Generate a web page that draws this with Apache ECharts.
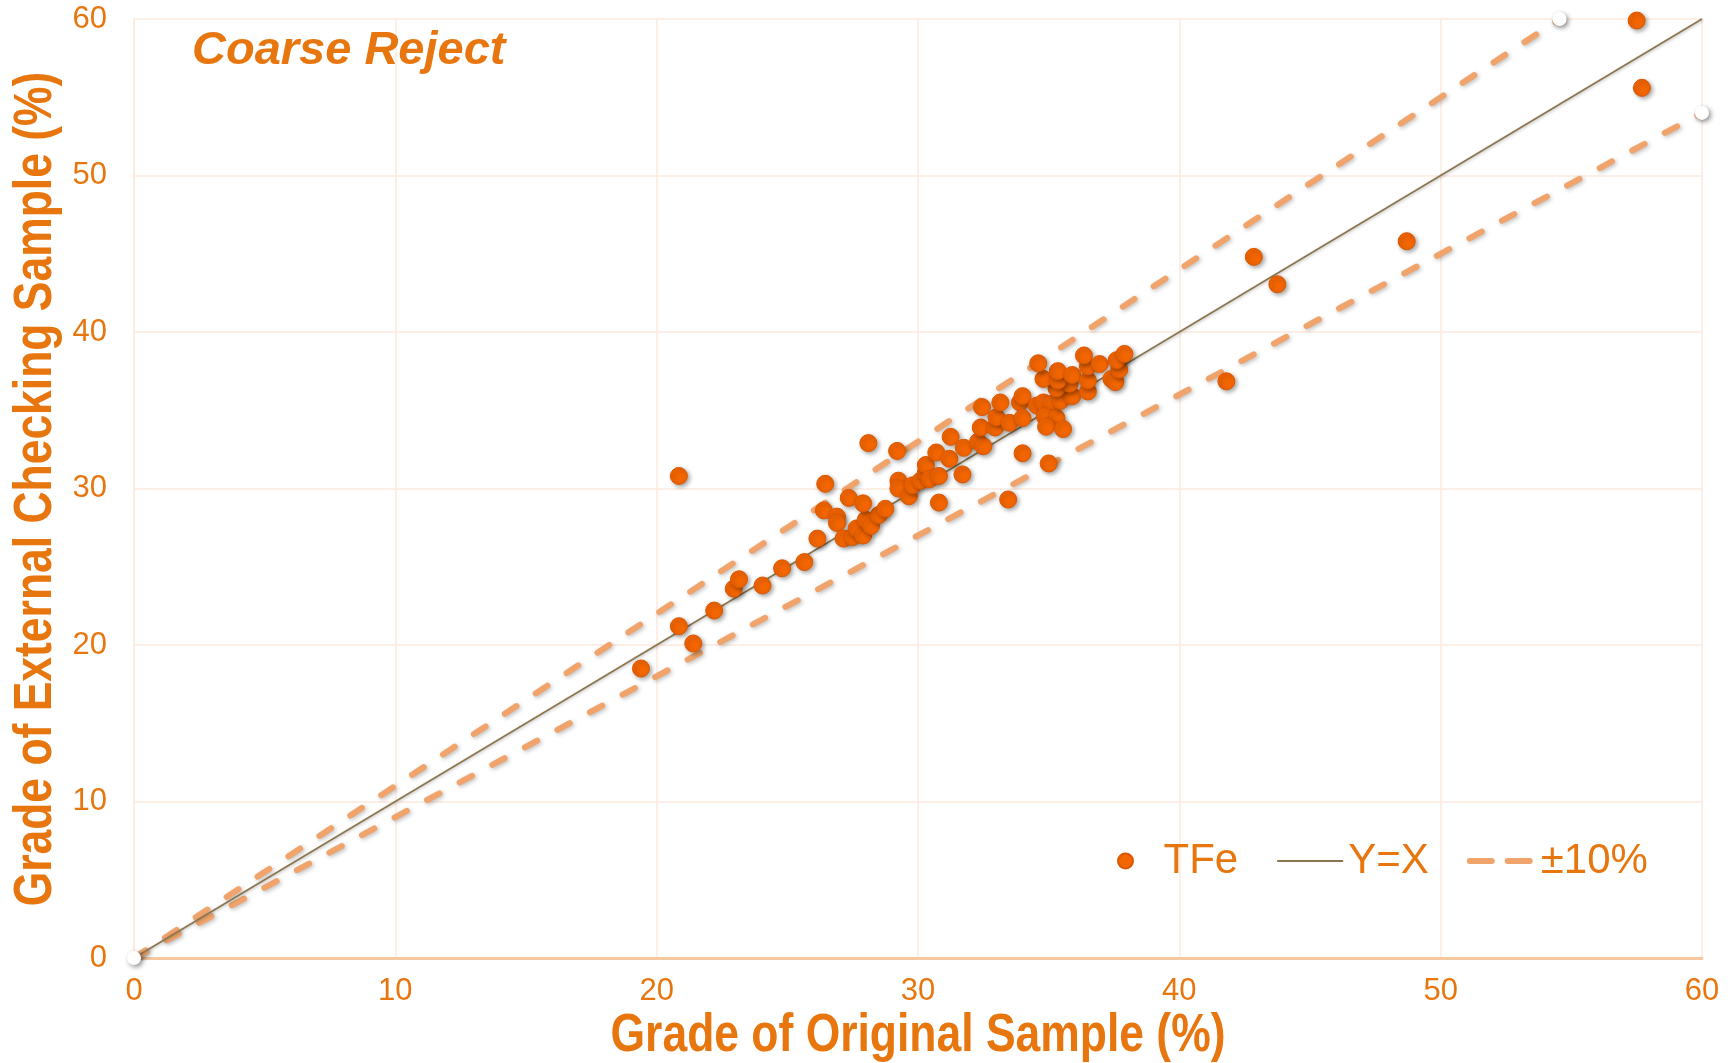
<!DOCTYPE html>
<html>
<head>
<meta charset="utf-8">
<script src="https://cdn.jsdelivr.net/npm/echarts@6/dist/echarts.min.js"></script>
<style>
html,body{margin:0;padding:0;background:#fff;}
#chart{width:1732px;height:1063px;}
</style>
</head>
<body>
<div id="chart"></div>
<script>
// ---- data ----
const axisTicks = [0, 10, 20, 30, 40, 50, 60];
const tfePoints = [
  [19.4,18.5],[20.85,21.2],[21.4,20.1],[22.2,22.2],[22.95,23.6],[23.15,24.2],[24.05,23.8],
  [24.8,24.9],[25.65,25.3],[26.15,26.8],[26.4,28.6],[26.45,30.3],[26.9,28.2],[26.9,27.8],
  [27.15,26.8],[27.5,26.9],[27.65,27.45],[27.9,27.0],[28.0,28.0],[28.2,27.6],[28.5,28.3],
  [28.75,28.7],[27.35,29.4],[27.9,29.05],[28.1,32.9],[29.2,32.4],[29.25,30.5],[29.25,30.0],
  [29.65,29.5],[29.8,30.2],[30.1,30.5],[30.3,31.0],[30.3,31.5],[30.45,30.6],[30.8,30.8],
  [30.8,29.1],[30.7,32.3],[31.25,33.3],[31.2,31.9],[31.75,32.6],[31.7,30.9],[32.3,33.0],
  [32.5,32.7],[32.4,33.9],[32.95,33.9],[32.45,35.2],[33.0,34.55],[33.5,34.2],[33.15,35.5],
  [33.9,35.5],[34.0,35.9],[34.0,34.5],[34.0,32.25],[33.45,29.3],[34.55,35.3],[34.8,35.5],
  [35.1,35.4],[34.85,34.6],[35.3,34.5],[34.9,33.95],[35.55,33.8],[35.0,31.6],[35.45,35.6],
  [35.9,35.9],[35.3,36.4],[35.8,36.7],[34.8,37.0],[35.35,36.9],[35.35,37.5],[35.9,37.25],
  [34.6,38.0],[36.5,36.2],[36.5,36.9],[36.5,37.8],[36.35,38.5],[36.95,37.95],[37.4,37.0],
  [37.55,36.8],[37.7,37.6],[37.6,38.2],[37.9,38.6],[41.8,36.85],[42.85,44.8],[43.75,43.05],
  [48.7,45.8],[57.5,59.9],[57.7,55.6],[20.85,30.8]
];
const lineYX = [[0,0],[60,60]];
const linePlus10 = [[0,0],[54.55,60]];
const lineMinus10 = [[0,0],[60,54]];
const endPoints = [[0,0],[60,54],[54.55,60]];
const seriesNames = ['TFe', 'Y=X', '±10%'];
const titleText = 'Coarse Reject';
const xTitle = 'Grade of Original Sample (%)';
const yTitle = 'Grade of External Checking Sample (%)';

// ---- style ----
const ORANGE_TXT = '#E8760F';
const SANS = "'Liberation Sans', Arial, sans-serif";
const DASH_COLOR = '#F0A46B';
const chart = echarts.init(document.getElementById('chart'), null, {renderer: 'canvas'});

const option = {
  backgroundColor: '#ffffff',
  animation: false,
  grid: {left: 134, right: 30, top: 19, bottom: 105, containLabel: false, outerBoundsMode: 'none'},
  title: {
    text: titleText, left: 187, top: 23,
    textStyle: {color: ORANGE_TXT, fontSize: 47, fontWeight: 'bold', fontStyle: 'italic', fontFamily: SANS}
  },
  graphic: [
    {
      type: 'text', x: 918, y: 1036, scaleX: 0.823, silent: true,
      style: {text: xTitle, fill: ORANGE_TXT, font: "bold 54px " + SANS, align: 'center', verticalAlign: 'middle'}
    },
    {
      type: 'text', x: 36, y: 489, rotation: Math.PI / 2, scaleX: 0.823, silent: true,
      style: {text: yTitle, fill: ORANGE_TXT, font: "bold 54px " + SANS, align: 'center', verticalAlign: 'middle'}
    }
  ],
  legend: {
    data: [
      {name: seriesNames[0], icon: 'circle'},
      {name: seriesNames[1], lineStyle: {width: 2}},
      {name: seriesNames[2], lineStyle: {type: [22, 16], width: 6, cap: 'round', color: DASH_COLOR}}
    ],
    left: 1112, top: 835,
    itemWidth: 66, itemHeight: 15, itemGap: 38,
    textStyle: {color: ORANGE_TXT, fontSize: 42, fontFamily: SANS}
  },
  xAxis: {
    type: 'value', min: 0, max: 60, interval: 10,
    axisLine: {show: true, lineStyle: {color: '#F6C8A0', width: 3}},
    axisTick: {show: false},
    axisLabel: {color: ORANGE_TXT, fontSize: 31, fontFamily: SANS, margin: 18,
      formatter: v => axisTicks.includes(v) ? String(v) : ''},
    splitLine: {show: true, lineStyle: {color: '#FDEADC', width: 1.5}}
  },
  yAxis: {
    type: 'value', min: 0, max: 60, interval: 10,
    axisLine: {show: true, lineStyle: {color: '#FDEADC', width: 1.5}},
    axisTick: {show: false},
    axisLabel: {color: ORANGE_TXT, fontSize: 31, fontFamily: SANS, margin: 27,
      formatter: v => axisTicks.includes(v) ? String(v) : ''},
    splitLine: {show: true, lineStyle: {color: '#FDEADC', width: 1.5}}
  },
  series: [
    {
      name: seriesNames[2], type: 'line', data: linePlus10, showSymbol: false, symbol: 'none',
      lineStyle: {color: DASH_COLOR, width: 6, type: [14, 23], cap: 'round',
        shadowBlur: 4, shadowColor: 'rgba(0,0,0,0.25)', shadowOffsetX: 1.5, shadowOffsetY: 1.5},
      itemStyle: {color: DASH_COLOR, opacity: 0}, z: 2, silent: true
    },
    {
      name: seriesNames[2], type: 'line', data: lineMinus10, showSymbol: false, symbol: 'none',
      lineStyle: {color: DASH_COLOR, width: 6, type: [14, 23], cap: 'round',
        shadowBlur: 4, shadowColor: 'rgba(0,0,0,0.25)', shadowOffsetX: 1.5, shadowOffsetY: 1.5},
      itemStyle: {color: DASH_COLOR, opacity: 0}, z: 2, silent: true
    },
    {
      name: seriesNames[1], type: 'line', data: lineYX, showSymbol: false, symbol: 'none',
      lineStyle: {color: '#8C7650', width: 1.8,
        shadowBlur: 3, shadowColor: 'rgba(0,0,0,0.25)', shadowOffsetX: 1, shadowOffsetY: 1},
      itemStyle: {color: '#8C7650', opacity: 0}, z: 3, silent: true
    },
    {
      name: 'ends', type: 'scatter', data: endPoints, symbolSize: 14,
      itemStyle: {color: '#ffffff', opacity: 1, shadowBlur: 5, shadowColor: 'rgba(0,0,0,0.45)', shadowOffsetX: 2, shadowOffsetY: 2},
      z: 4, silent: true, clip: false
    },
    {
      name: seriesNames[0], type: 'scatter', data: tfePoints, symbolSize: 17,
      itemStyle: {color: '#F26500', opacity: 1, borderColor: '#DC5800', borderWidth: 1,
        shadowBlur: 4, shadowColor: 'rgba(0,0,0,0.35)', shadowOffsetX: 2, shadowOffsetY: 2},
      z: 5, clip: false
    }
  ]
};
chart.setOption(option);
</script>
</body>
</html>
